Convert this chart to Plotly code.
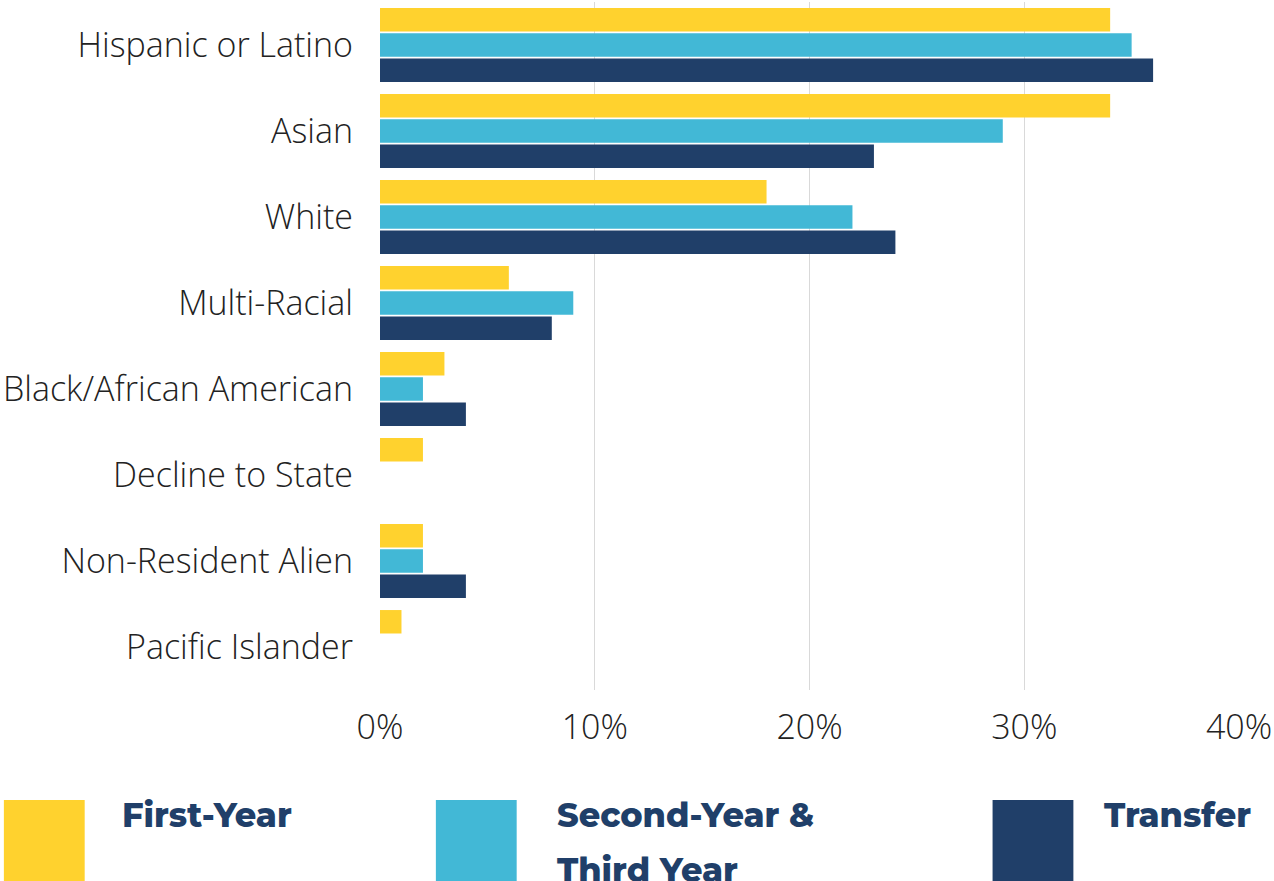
import plotly.graph_objects as go

categories = ["Hispanic or Latino", "Asian", "White", "Multi-Racial",
              "Black/African American", "Decline to State",
              "Non-Resident Alien", "Pacific Islander"]
first_year = [34, 34, 18, 6, 3, 2, 2, 1]
second_third = [35, 29, 22, 9, 2, None, 2, None]
transfer = [36, 23, 24, 8, 4, None, 4, None]
colors = ["#FFD22E", "#42B8D6", "#203F69"]
x_ticks = [0, 10, 20, 30, 40]

W, H = 1274, 881
L, R, T, B = 380, 33, 2, 191
pw, ph = W - L - R, H - T - B

fig = go.Figure()
for name, vals, col in zip(["First-Year", "Second-Year & Third Year", "Transfer"],
                           [first_year, second_third, transfer], colors):
    fig.add_trace(go.Bar(y=categories, x=vals, orientation="h", name=name,
                         marker=dict(color=col, line=dict(width=0)),
                         showlegend=False))

def px_x(p):
    return (p - L) / pw

def px_y(p):
    return (H - B - p) / ph

shapes = []
annotations = []
sq_left = [3, 436, 994]
txt_left = [119, 555, 1104]
lines = [["First-Year"], ["Second-Year &", "Third Year"], ["Transfer"]]
for i in range(3):
    shapes.append(dict(type="rect", xref="paper", yref="paper",
                       x0=px_x(sq_left[i]), x1=px_x(sq_left[i] + 81),
                       y0=px_y(800), y1=px_y(900),
                       fillcolor=colors[i], line=dict(width=0), layer="above"))
    for j, ln in enumerate(lines[i]):
        annotations.append(dict(text=ln, xref="paper", yref="paper",
                                x=px_x(txt_left[i]), y=px_y(815 + 55 * j),
                                xanchor="left", yanchor="middle", showarrow=False,
                                font=dict(family="Montserrat, Inter, sans-serif", size=33.5,
                                          color="#203F69", weight=800)))

tick_font = dict(family="Open Sans", size=34, color="#222222", weight=300)
fig.update_layout(
    width=W, height=H,
    margin=dict(l=L, r=R, t=T, b=B, pad=0),
    paper_bgcolor="white", plot_bgcolor="white",
    barmode="group", bargap=0.12, bargroupgap=0.07,
    font=tick_font,
    xaxis=dict(range=[0, 40], tickvals=x_ticks, ticktext=[f"{v}%" for v in x_ticks],
               showgrid=True, gridcolor="#d9d9d9", gridwidth=1, zeroline=False,
               showline=False, ticks="", ticklabelstandoff=14, tickfont=tick_font,
               ticklabeloverflow="allow"),
    yaxis=dict(categoryorder="array", categoryarray=categories, autorange="reversed",
               showgrid=False, zeroline=False, showline=False, ticks="",
               ticklabelstandoff=26, tickfont=tick_font),
    shapes=shapes, annotations=annotations,
)

fig.write_html("out.html", config={"displayModeBar": False},
               post_script="document.body.style.margin='0';document.body.style.overflow='hidden';")
